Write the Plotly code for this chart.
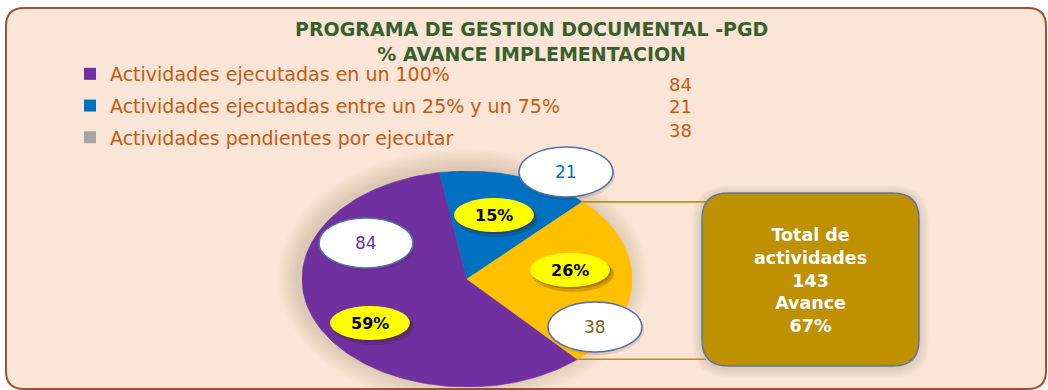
import numpy as np
import plotly.graph_objects as go

W, H = 1048, 390

# ---- data -------------------------------------------------------------
categories = [
    "Actividades ejecutadas en un 100%",
    "Actividades ejecutadas entre un 25% y un 75%",
    "Actividades pendientes por ejecutar",
]
counts = [84, 21, 38]
percent_shares = [59, 15, 26]
slice_colors = ["#7030A0", "#0070C0", "#FFC000"]
legend_colors = ["#7030A0", "#0070C0", "#A5A5A5"]
count_label_colors = ["#7030A0", "#0070C0", "#7F6226"]
title_lines = ["PROGRAMA DE GESTION DOCUMENTAL -PGD", "% AVANCE IMPLEMENTACION"]
avance_percent = 67

# ---- geometry (pixels) ------------------------------------------------
PIE_CX, PIE_CY, PIE_RX, PIE_RY = 467, 279, 165, 108
PIE_START_DEG = 138          # first slice starts here, clockwise from 12 o'clock
BOX = (702, 193, 919, 366)   # summary box
count_label_pos = [(366, 243), (566, 172), (595, 327)]
pct_label_pos = [(370, 323), (494, 215), (570, 270)]
value_col_pos = [(680, 84), (680, 106), (680, 130)]

ORANGE_TEXT = "#C55A11"
BASE_FONT = "DejaVu Sans"


def rounded_rect(x0, y0, x1, y1, r):
    return (f"M {x0+r},{y0} L {x1-r},{y0} Q {x1},{y0} {x1},{y0+r} "
            f"L {x1},{y1-r} Q {x1},{y1} {x1-r},{y1} L {x0+r},{y1} "
            f"Q {x0},{y1} {x0},{y1-r} L {x0},{y0+r} Q {x0},{y0} {x0+r},{y0} Z")


def ellipse(cx, cy, rx, ry, **kw):
    return dict(type="circle", xref="x", yref="y",
                x0=cx - rx, x1=cx + rx, y0=cy - ry, y1=cy + ry, **kw)


fig = go.Figure()

# legend entries (pixel overlay axes)
for cat, col in zip(categories, legend_colors):
    fig.add_trace(go.Scatter(
        x=[None], y=[None], mode="markers", name=cat, legendgroup=cat,
        marker=dict(symbol="square", size=12, color=col),
        xaxis="x", yaxis="y"))

# pie slices drawn on a unit-circle axis pair stretched into an ellipse
total_share = sum(percent_shares)
angle = PIE_START_DEG
slice_bounds = []
for cat, share, col, n in zip(categories, percent_shares, slice_colors, counts):
    span = share / total_share * 360.0
    t = np.radians(np.linspace(angle, angle + span, 160))
    xs = np.concatenate([[0.0], np.sin(t), [0.0]])
    ys = np.concatenate([[0.0], np.cos(t), [0.0]])
    fig.add_trace(go.Scatter(
        x=xs, y=ys, xaxis="x2", yaxis="y2", mode="lines", fill="toself",
        fillcolor=col, line=dict(width=0.6, color=col), showlegend=False,
        hoverinfo="text", text=f"{cat}: {n} ({share}%)"))
    slice_bounds.append((angle, angle + span))
    angle += span

shapes = []
# panel background
shapes.append(dict(type="path", xref="x", yref="y", layer="below",
                   path=rounded_rect(6, 8, 1046, 389, 18),
                   fillcolor="#FBE5D6", line=dict(color="#A0522D", width=2)))
# soft shadow around the pie
for i in range(10, 0, -1):
    g = i * 2.0
    shapes.append(ellipse(PIE_CX - 4, PIE_CY - 2, PIE_RX + g, PIE_RY + g,
                          layer="below", fillcolor="rgba(110,85,70,0.02)",
                          line=dict(width=0)))
# soft shadow around the summary box
bx0, by0, bx1, by1 = BOX
for i in range(6, 0, -1):
    g = i * 1.6
    shapes.append(dict(type="path", xref="x", yref="y", layer="below",
                       path=rounded_rect(bx0 - g, by0 - g + 2, bx1 + g, by1 + g + 2, 26 + g),
                       fillcolor="rgba(110,80,60,0.03)", line=dict(width=0)))

# connector lines from the yellow slice edges to the summary box
third_start, third_end = slice_bounds[2]
for deg in (third_start % 360, third_end % 360):
    px = PIE_CX + PIE_RX * np.sin(np.radians(deg))
    py = PIE_CY - PIE_RY * np.cos(np.radians(deg))
    shapes.append(dict(type="line", xref="x", yref="y", x0=px, y0=py, x1=bx0 + 4, y1=py,
                       line=dict(color="#C09000", width=1.6)))

# summary box
shapes.append(dict(type="path", xref="x", yref="y",
                   path=rounded_rect(bx0, by0, bx1, by1, 26),
                   fillcolor="#BF9000", line=dict(color="#5A78A8", width=1.5)))

# percentage bubbles (yellow with drop shadow)
for (cx, cy) in pct_label_pos:
    shapes.append(ellipse(cx + 3, cy + 4, 41, 18, fillcolor="rgba(60,30,20,0.20)", line=dict(width=0)))
    shapes.append(ellipse(cx + 2, cy + 2, 40, 17, fillcolor="rgba(60,30,20,0.28)", line=dict(width=0)))
    shapes.append(ellipse(cx, cy, 40, 17, fillcolor="#FFFF00", line=dict(width=0)))
# count bubbles (white with blue outline)
for (cx, cy) in count_label_pos:
    shapes.append(ellipse(cx + 2, cy + 3, 47, 25, fillcolor="rgba(60,30,20,0.12)", line=dict(width=0)))
    shapes.append(ellipse(cx, cy, 47, 25, fillcolor="#FFFFFF", line=dict(color="#5271A6", width=1.5)))

annotations = []
# chart title
annotations.append(dict(x=531, y=16, xref="x", yref="y", xanchor="center", yanchor="top",
                        text="<br>".join(title_lines), showarrow=False,
                        font=dict(family=BASE_FONT, size=19, color="#38602E", weight="bold")))
for (cx, cy), share in zip(pct_label_pos, percent_shares):
    annotations.append(dict(x=cx, y=cy, xref="x", yref="y", text=f"{share}%", showarrow=False,
                            font=dict(family=BASE_FONT, size=16, color="#000000", weight="bold")))
for (cx, cy), n, col in zip(count_label_pos, counts, count_label_colors):
    annotations.append(dict(x=cx, y=cy, xref="x", yref="y", text=str(n), showarrow=False,
                            font=dict(family=BASE_FONT, size=17, color=col)))
for (cx, cy), n in zip(value_col_pos, counts):
    annotations.append(dict(x=cx, y=cy, xref="x", yref="y", text=str(n), showarrow=False,
                            font=dict(family=BASE_FONT, size=18, color=ORANGE_TEXT)))
annotations.append(dict(
    x=(bx0 + bx1) / 2, y=(by0 + by1) / 2 + 1, xref="x", yref="y", showarrow=False,
    text=f"Total de<br>actividades<br>{sum(counts)}<br>Avance<br>{avance_percent}%",
    font=dict(family=BASE_FONT, size=17.5, color="#FFFFFF", weight="bold")))

fig.update_layout(
    width=W, height=H, autosize=False,
    margin=dict(l=0, r=0, t=0, b=0),
    paper_bgcolor="#FFFFFF", plot_bgcolor="rgba(0,0,0,0)",
    xaxis=dict(range=[0, W], domain=[0, 1], visible=False, fixedrange=True),
    yaxis=dict(range=[H, 0], domain=[0, 1], visible=False, fixedrange=True),
    xaxis2=dict(range=[-1, 1], anchor="y2", visible=False, fixedrange=True,
                domain=[(PIE_CX - PIE_RX) / W, (PIE_CX + PIE_RX) / W]),
    yaxis2=dict(range=[-1, 1], anchor="x2", visible=False, fixedrange=True,
                domain=[1 - (PIE_CY + PIE_RY) / H, 1 - (PIE_CY - PIE_RY) / H]),
    showlegend=True,
    legend=dict(x=70 / W, xanchor="left", y=1 - 55 / H, yanchor="top",
                bgcolor="rgba(0,0,0,0)", tracegroupgap=4, traceorder="grouped",
                itemclick=False, itemdoubleclick=False,
                font=dict(family=BASE_FONT, size=19, color=ORANGE_TEXT)),
    shapes=shapes, annotations=annotations,
)

fig.write_html("out.html")
